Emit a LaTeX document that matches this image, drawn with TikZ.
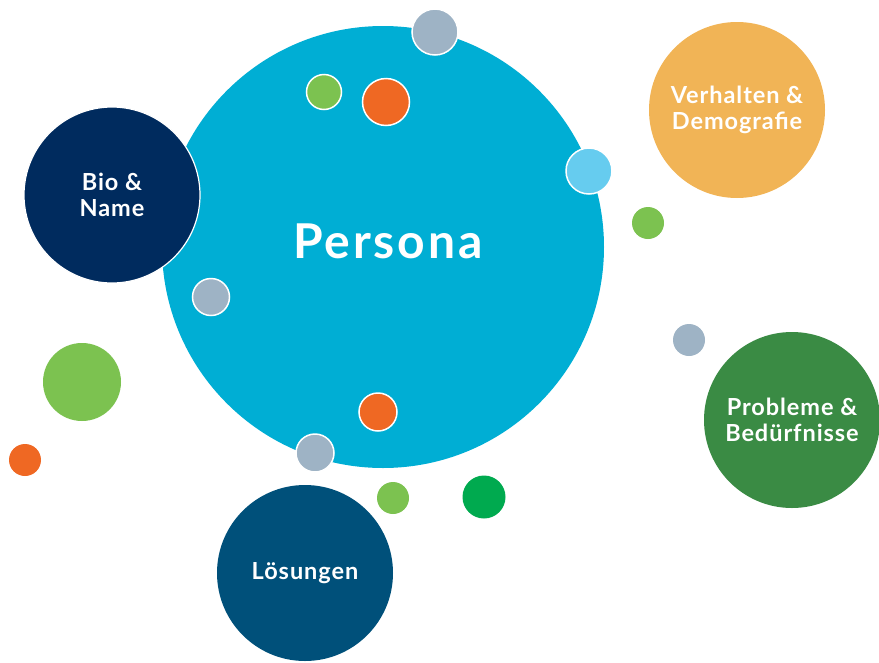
\documentclass[tikz,border=0pt]{standalone}
\usepackage{fontspec}
\setmainfont{Lato}[LetterSpace=4]
\newfontfamily\widefont{Lato}[LetterSpace=6]
\definecolor{cyanP}{HTML}{00AED4}
\definecolor{navy}{HTML}{002B5E}
\definecolor{amber}{HTML}{F1B456}
\definecolor{forest}{HTML}{3A8B44}
\definecolor{teal}{HTML}{00507A}
\definecolor{slate}{HTML}{9EB3C5}
\definecolor{lime}{HTML}{7CC250}
\definecolor{tang}{HTML}{EF6823}
\definecolor{sky}{HTML}{66CCEF}
\definecolor{emerald}{HTML}{00AA4F}
\tikzset{
  big/.style={circle, minimum size=176pt, inner sep=0pt, text=white, font=\bfseries\fontsize{23.5}{26}\selectfont, align=center},
  dot/.style={circle, inner sep=0pt, fill=#1},
  odot/.style={circle, inner sep=0pt, fill=#1, draw=white, line width=1.5pt},
}
\begin{document}
\begin{tikzpicture}[x=1pt,y=-1pt]
\useasboundingbox (0,0) rectangle (879,662);
\node[circle, minimum size=442pt, inner sep=0pt, fill=cyanP] (persona) at (383,247) {};
\node[text=white, font=\widefont\bfseries\fontsize{48}{50}\selectfont] (personaText) at (388,241) {Persona};
\node[big, fill=navy, draw=white, line width=1.2pt] (bio) at (112,195) {Bio \&\\Name};
\node[big, fill=amber] (verh) at (737,110) {Verhalten \&\\Demografie};
\node[big, fill=forest] (prob) at (792,420) {Probleme \&\\Bedürfnisse};
\node[big, fill=teal] (loes) at (305,573) {Lösungen};
% small dots
\node[odot=slate, minimum size=46pt] (d1) at (435,32) {};
\node[odot=lime, minimum size=35pt] (d2) at (324,92) {};
\node[odot=tang, minimum size=47pt] (d3) at (386,102) {};
\node[odot=sky, minimum size=46pt] (d4) at (589,171) {};
\node[dot=lime, minimum size=32pt] (d5) at (648,223) {};
\node[odot=slate, minimum size=37pt] (d6) at (211,297) {};
\node[dot=slate, minimum size=32pt] (d7) at (689,340) {};
\node[dot=lime, minimum size=78pt] (d8) at (82,382) {};
\node[dot=tang, minimum size=32pt] (d9) at (25,460) {};
\node[odot=tang, minimum size=38pt] (d10) at (378,412) {};
\node[odot=slate, minimum size=38pt] (d11) at (315,453) {};
\node[dot=lime, minimum size=32pt] (d12) at (393,498) {};
\node[dot=emerald, minimum size=43pt] (d13) at (484,497) {};
\end{tikzpicture}
\end{document}
